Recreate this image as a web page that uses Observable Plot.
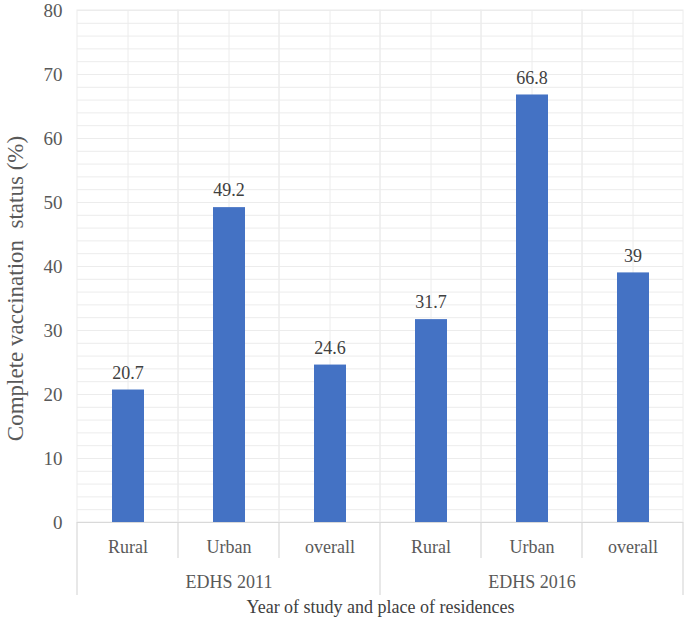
<!DOCTYPE html>
<html>
<head>
<meta charset="utf-8">
<script src="https://cdn.jsdelivr.net/npm/d3@7"></script>
<script src="https://cdn.jsdelivr.net/npm/@observablehq/plot@0.6"></script>
<style>
  body { margin: 0; background: #fff; }
  #chart { width: 685px; height: 623px; }
</style>
</head>
<body>
<div id="chart"></div>
<script>
const groups = ["EDHS 2011", "EDHS 2011", "EDHS 2011", "EDHS 2016", "EDHS 2016", "EDHS 2016"];
const places = ["Rural", "Urban", "overall", "Rural", "Urban", "overall"];
const values = [20.7, 49.2, 24.6, 31.7, 66.8, 39];
const valueLabels = ["20.7", "49.2", "24.6", "31.7", "66.8", "39"];
const yTicks = [0, 10, 20, 30, 40, 50, 60, 70, 80];
const minorTicks = d3.range(0, 81, 2);
const yTitle = "Complete vaccination  status (%)";
const xTitle = "Year of study and place of residences";

const data = places.map((p, i) => ({key: groups[i] + "|" + p, group: groups[i], place: p, value: values[i], label: valueLabels[i]}));
const keys = data.map(d => d.key);
const groupNames = Array.from(new Set(groups));
const groupMid = groupNames.map(g => { const ks = data.filter(d => d.group === g).map(d => d.key); return {group: g, key: ks[Math.floor(ks.length / 2)]}; });

const grid = "#ececec";
const textCol = "#595959";
const serif = '"Liberation Serif", "Times New Roman", serif';

const plot = Plot.plot({
  width: 685,
  height: 623,
  marginLeft: 77,
  marginRight: 2,
  marginTop: 10,
  marginBottom: 101,
  style: {fontFamily: serif, background: "#fff"},
  x: {domain: keys, padding: 0, axis: null},
  y: {domain: [0, 80], axis: null},
  marks: [
    Plot.ruleY(minorTicks, {stroke: grid, strokeWidth: 1}),
    Plot.ruleX(keys, {x: d => d, stroke: grid, strokeWidth: 1}),
    Plot.barY(keys, {x: d => d, y1: 0, y2: 80, fill: "none", stroke: grid, strokeWidth: 1}),
    Plot.barY(data, {x: "key", y: "value", fill: "#4472C4", insetLeft: 35, insetRight: 34}),
    Plot.text(data, {x: "key", y: "value", text: "label", dy: -17, fontSize: 18, fontFamily: serif, fill: "#404040"}),
    Plot.ruleY([0], {stroke: "#d9d9d9", strokeWidth: 1.2}),
    Plot.text(yTicks, {y: d => d, text: d => String(d), frameAnchor: "left", dx: -15, textAnchor: "end", fontSize: 19, fontFamily: serif, fill: textCol}),
    Plot.text(data, {x: "key", y: 0, text: "place", dy: 25, fontSize: 18, fontFamily: serif, fill: textCol}),
    Plot.text(groupMid, {x: "key", y: 0, text: "group", dy: 60, fontSize: 18, fontFamily: serif, fill: textCol}),
    Plot.text([xTitle], {frameAnchor: "bottom", text: d => d, dy: 90, fontSize: 18, fontFamily: serif, fill: "#404040"}),
    Plot.text([yTitle], {frameAnchor: "left", text: d => d, rotate: -90, textAnchor: "middle", dx: -62, dy: 22, fontSize: 23, fontFamily: serif, fill: textCol})
  ]
});

document.getElementById("chart").appendChild(plot);

// separators below the axis, using the plot's own x scale
const xs = plot.scale("x");
const bw = xs.bandwidth;
const svg = d3.select(plot);
const y0 = 522;
keys.forEach((k, i) => {
  const left = xs.apply(k);
  const isGroupStart = i === 0 || data[i].group !== data[i - 1].group;
  svg.append("line").attr("x1", left).attr("x2", left).attr("y1", y0).attr("y2", isGroupStart ? 595 : 558)
    .attr("stroke", "#d9d9d9").attr("stroke-width", 1.2);
});
const lastRight = xs.apply(keys[keys.length - 1]) + bw;
svg.append("line").attr("x1", lastRight).attr("x2", lastRight).attr("y1", y0).attr("y2", 595)
  .attr("stroke", "#d9d9d9").attr("stroke-width", 1.2);
</script>
</body>
</html>
